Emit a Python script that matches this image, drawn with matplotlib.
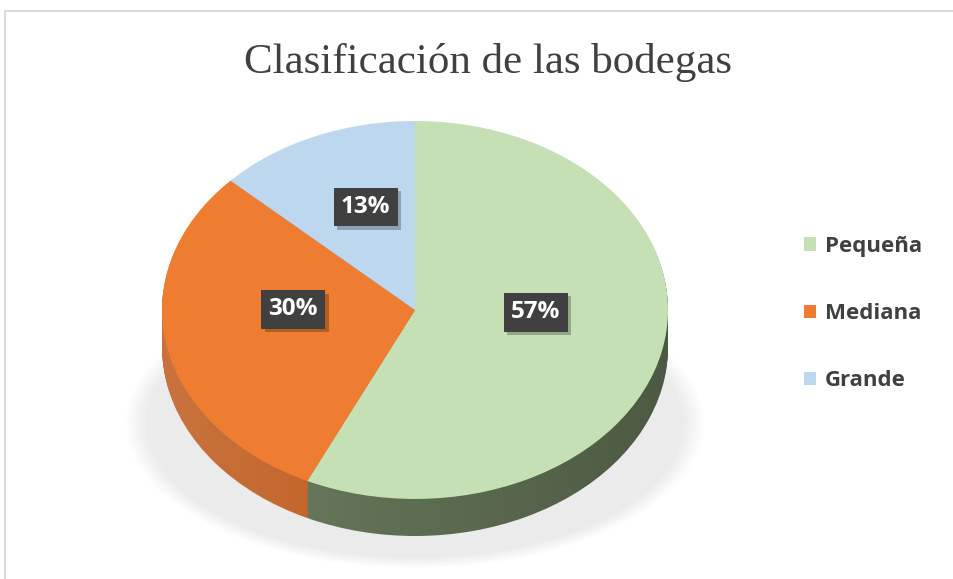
import numpy as np
import matplotlib.pyplot as plt
import matplotlib.patheffects as pe
from matplotlib.patches import Rectangle, Ellipse, Polygon

# Data
categories = ["Pequeña", "Mediana", "Grande"]
shares = [57, 30, 13]
top_colors = ["#c5e0b4", "#ee7d31", "#bdd7ee"]
side_colors = ["#5d6d51", "#c05d20", "#8099ad"]

W, H = 954, 579
fig = plt.figure(figsize=(W / 100, H / 100), dpi=100)
fig.patch.set_facecolor("white")

# chart border (only top and left edges are visible in the picture)
fig.patches.append(Rectangle((5 / W, -0.1), 1.2, 1 - 11 / H + 0.1, transform=fig.transFigure,
                             fill=False, edgecolor="#d4d4d4", linewidth=1.2))

fig.text(488 / W, 1 - 73 / H, "Clasificación de las bodegas", ha="center", va="baseline",
         fontsize=31, family="Liberation Serif", color="#404040")

# pie axes: top face ellipse 506 x 378 px, side depth ~37 px
depth = 0.196
left, top, right, bottom = 162, 121, 668, 536
ax = fig.add_axes([left / W, 1 - bottom / H, (right - left) / W, (bottom - top) / H])

# soft shadow under the pie
for s in np.linspace(1.08, 1.0, 20):
    ax.add_patch(Ellipse((0, -0.6), 2.12 * s, 1.42 * s, facecolor="#000000",
                         alpha=0.005, edgecolor="none", clip_on=False, zorder=0))

# extruded side: stack of darker pies
for k in np.linspace(depth, 0.005, 30):
    ax.pie(shares, colors=side_colors, startangle=90, counterclock=False,
           center=(0, -k), radius=1, wedgeprops=dict(linewidth=0))

# horizontal light-to-dark shading over the side
t = np.linspace(0, np.pi, 100)
outline = np.concatenate([np.c_[np.cos(t), np.sin(t)],
                          np.c_[np.cos(t + np.pi), np.sin(t + np.pi) - depth]])
clip = Polygon(outline, closed=True, transform=ax.transData, facecolor="none", edgecolor="none")
ax.add_patch(clip)
grad = np.linspace(-1, 1, 256)[None, :]
shade = np.zeros((1, 256, 4))
shade[..., :3] = np.where(grad[..., None] < 0, 1.0, 0.0)
shade[..., 3] = np.abs(grad) * np.where(grad < 0, 0.14, 0.18)
im = ax.imshow(shade, extent=(-1, 1, -1 - depth, 1), aspect="auto", zorder=1.5,
               interpolation="bilinear")
im.set_clip_path(clip)

wedges, _ = ax.pie(shares, colors=top_colors, startangle=90, counterclock=False,
                   center=(0, 0), radius=1, wedgeprops=dict(linewidth=0))
for w in wedges:
    w.set_zorder(2)

ax.set_aspect("auto")
ax.set_xlim(-1, 1)
ax.set_ylim(-1 - depth, 1)
ax.axis("off")

# data labels placed at mid-angle of each wedge, with a soft drop shadow
for w, v in zip(wedges, shares):
    mid = np.deg2rad((w.theta1 + w.theta2) / 2)
    x = 0.49 * np.cos(mid)
    y = 0.095 + 0.49 * np.sin(mid)
    txt = ax.text(x, y, f"{v}%", ha="center", va="center", fontsize=17.5, fontweight="bold",
                  family="Open Sans", color="white", zorder=5,
                  bbox=dict(boxstyle="square,pad=0.3", facecolor="#404040", edgecolor="none"))
    txt.get_bbox_patch().set_path_effects(
        [pe.SimplePatchShadow(offset=(2.5, -2.5), shadow_rgbFace="black", alpha=0.25),
         pe.Normal()])

leg = fig.legend(wedges, categories, loc="upper left", bbox_to_anchor=(784 / W, 1 - 216 / H),
                 frameon=False, handlelength=0.55, handleheight=0.55, handletextpad=0.4,
                 labelspacing=2.08, prop=dict(family="Open Sans", weight="bold", size=16))
for t in leg.get_texts():
    t.set_color("#404040")

fig.savefig("out.png", dpi=100)
